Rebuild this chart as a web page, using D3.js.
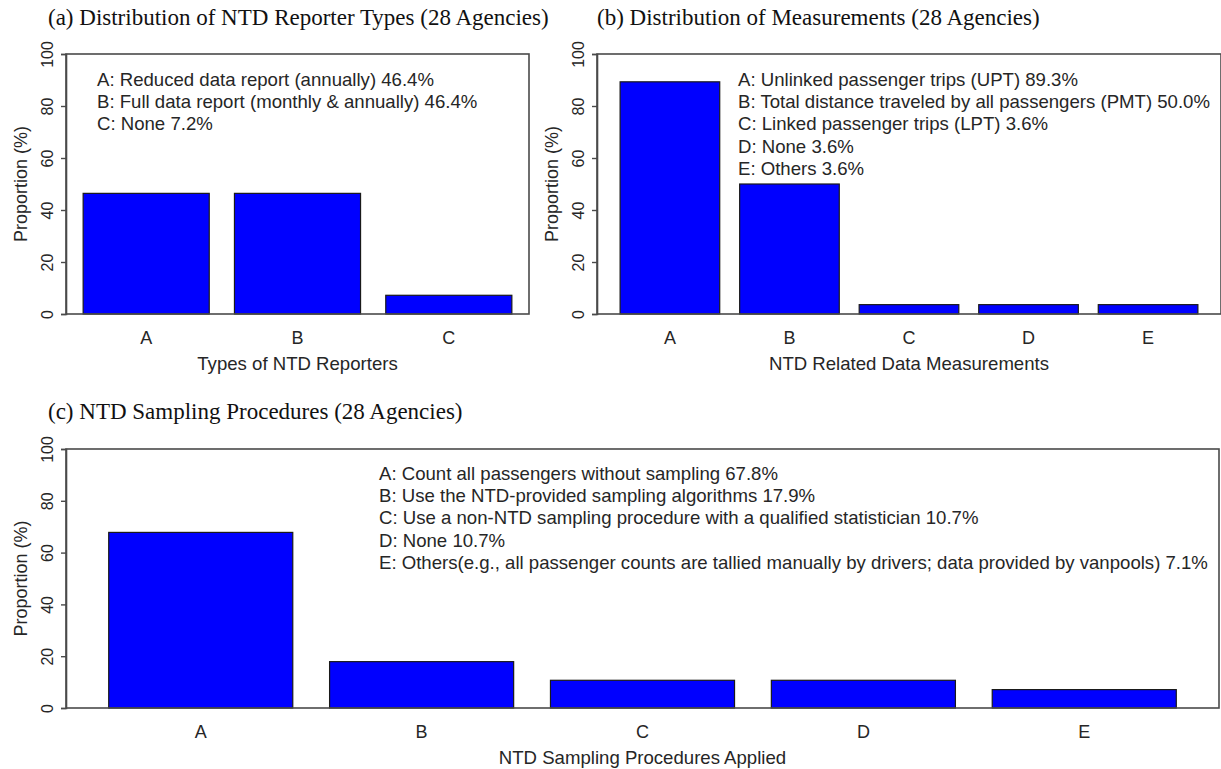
<!DOCTYPE html>
<html>
<head>
<meta charset="utf-8">
<script src="https://cdn.jsdelivr.net/npm/d3@7"></script>
<style>
  html, body { margin: 0; padding: 0; background: #ffffff; }
  svg { display: block; }
</style>
</head>
<body>
<svg id="chart" width="1221" height="769"></svg>
<script>
// ---- Data ----
const yTicks = [0, 20, 40, 60, 80, 100];

const reporterCategories = ["A", "B", "C"];
const reporterValues = [46.4, 46.4, 7.2];
const reporterLegend = [
  "A: Reduced data report (annually) 46.4%",
  "B: Full data report (monthly & annually) 46.4%",
  "C: None 7.2%"
];

const measurementCategories = ["A", "B", "C", "D", "E"];
const measurementValues = [89.3, 50.0, 3.6, 3.6, 3.6];
const measurementLegend = [
  "A: Unlinked passenger trips (UPT) 89.3%",
  "B: Total distance traveled by all passengers (PMT) 50.0%",
  "C: Linked passenger trips (LPT) 3.6%",
  "D: None 3.6%",
  "E: Others 3.6%"
];

const samplingCategories = ["A", "B", "C", "D", "E"];
const samplingValues = [67.8, 17.9, 10.7, 10.7, 7.1];
const samplingLegend = [
  "A: Count all passengers without sampling 67.8%",
  "B: Use the NTD-provided sampling algorithms 17.9%",
  "C: Use a non-NTD sampling procedure with a qualified statistician 10.7%",
  "D: None 10.7%",
  "E: Others(e.g., all passenger counts are tallied manually by drivers; data provided by vanpools) 7.1%"
];

// ---- Drawing ----
const svg = d3.select("#chart");
const SANS = "'Liberation Sans', Arial, sans-serif";
const SERIF = "'Liberation Serif', 'Times New Roman', serif";
const AXIS_COLOR = "#4a4a4a";
const TEXT_COLOR = "#262626";

function drawPanel(cfg) {
  const { left, right, top, bottom, categories, values, legend,
          title, titleX, titleY, xTitle, legendX, legendY } = cfg;
  const g = svg.append("g");

  // bar spacing: bars of width 1 separated by 0.2, range padded by 4% each side
  const n = categories.length;
  const outer = 0.04 * (1.2 * n - 0.2) / 1.2;
  const x = d3.scaleBand()
    .domain(categories)
    .range([left, right])
    .paddingInner(0.2 / 1.2)
    .paddingOuter(outer);
  const y = d3.scaleLinear().domain([0, 100]).range([bottom, top]);

  // panel title
  g.append("text")
    .attr("x", titleX).attr("y", titleY)
    .attr("font-family", SERIF).attr("font-size", 23)
    .attr("fill", "#111")
    .text(title);

  // bars
  g.selectAll("rect.bar")
    .data(values)
    .join("rect")
    .attr("class", "bar")
    .attr("x", (d, i) => x(categories[i]))
    .attr("width", x.bandwidth())
    .attr("y", d => y(d))
    .attr("height", d => y(0) - y(d))
    .attr("fill", "#0000ff")
    .attr("stroke", "#1a1a1a")
    .attr("stroke-width", 1.2);

  // plot frame
  g.append("rect")
    .attr("x", left).attr("y", top)
    .attr("width", right - left).attr("height", bottom - top)
    .attr("fill", "none")
    .attr("stroke", AXIS_COLOR)
    .attr("stroke-width", 1.6);

  // y axis with rotated tick labels
  const yAxis = d3.axisLeft(y).tickValues(yTicks).tickSize(5).tickFormat(d3.format("d"));
  const ay = g.append("g").attr("transform", `translate(${left},0)`).call(yAxis);
  ay.select(".domain").attr("stroke", AXIS_COLOR).attr("stroke-width", 1.6);
  ay.selectAll(".tick line").attr("stroke", AXIS_COLOR).attr("stroke-width", 1.4);
  ay.selectAll(".tick text")
    .attr("x", null).attr("dy", null)
    .attr("transform", "translate(-13,0) rotate(-90)")
    .attr("text-anchor", "middle")
    .attr("font-family", SANS).attr("font-size", 16)
    .attr("fill", TEXT_COLOR);

  // y axis title
  g.append("text")
    .attr("transform", `translate(${left - 39},${(top + bottom) / 2}) rotate(-90)`)
    .attr("text-anchor", "middle")
    .attr("font-family", SANS).attr("font-size", 18)
    .attr("fill", TEXT_COLOR)
    .text("Proportion (%)");

  // category labels under bars
  const ax = d3.axisBottom(x).tickSize(0).tickPadding(0);
  const axg = g.append("g").attr("transform", `translate(0,${bottom})`).call(ax);
  axg.select(".domain").remove();
  axg.selectAll(".tick text")
    .attr("y", 30).attr("dy", null)
    .attr("font-family", SANS).attr("font-size", 18)
    .attr("fill", TEXT_COLOR);

  // x axis title
  g.append("text")
    .attr("x", (left + right) / 2).attr("y", bottom + 56)
    .attr("text-anchor", "middle")
    .attr("font-family", SANS).attr("font-size", 18.6)
    .attr("fill", TEXT_COLOR)
    .text(xTitle);

  // legend lines
  g.selectAll("text.legend")
    .data(legend)
    .join("text")
    .attr("class", "legend")
    .attr("x", legendX)
    .attr("y", (d, i) => legendY + i * 22.2)
    .attr("font-family", SANS).attr("font-size", 18.6)
    .attr("fill", TEXT_COLOR)
    .text(d => d);
}

drawPanel({
  left: 66, right: 529, top: 54, bottom: 314,
  categories: reporterCategories, values: reporterValues, legend: reporterLegend,
  title: "(a) Distribution of NTD Reporter Types (28 Agencies)", titleX: 48, titleY: 25,
  xTitle: "Types of NTD Reporters", legendX: 97, legendY: 86
});

drawPanel({
  left: 597, right: 1221, top: 54, bottom: 314,
  categories: measurementCategories, values: measurementValues, legend: measurementLegend,
  title: "(b) Distribution of Measurements (28 Agencies)", titleX: 597, titleY: 25,
  xTitle: "NTD Related Data Measurements", legendX: 738, legendY: 86
});

drawPanel({
  left: 66, right: 1219, top: 449, bottom: 708,
  categories: samplingCategories, values: samplingValues, legend: samplingLegend,
  title: "(c) NTD Sampling Procedures (28 Agencies)", titleX: 48, titleY: 419,
  xTitle: "NTD Sampling Procedures Applied", legendX: 379, legendY: 480
});
</script>
</body>
</html>
